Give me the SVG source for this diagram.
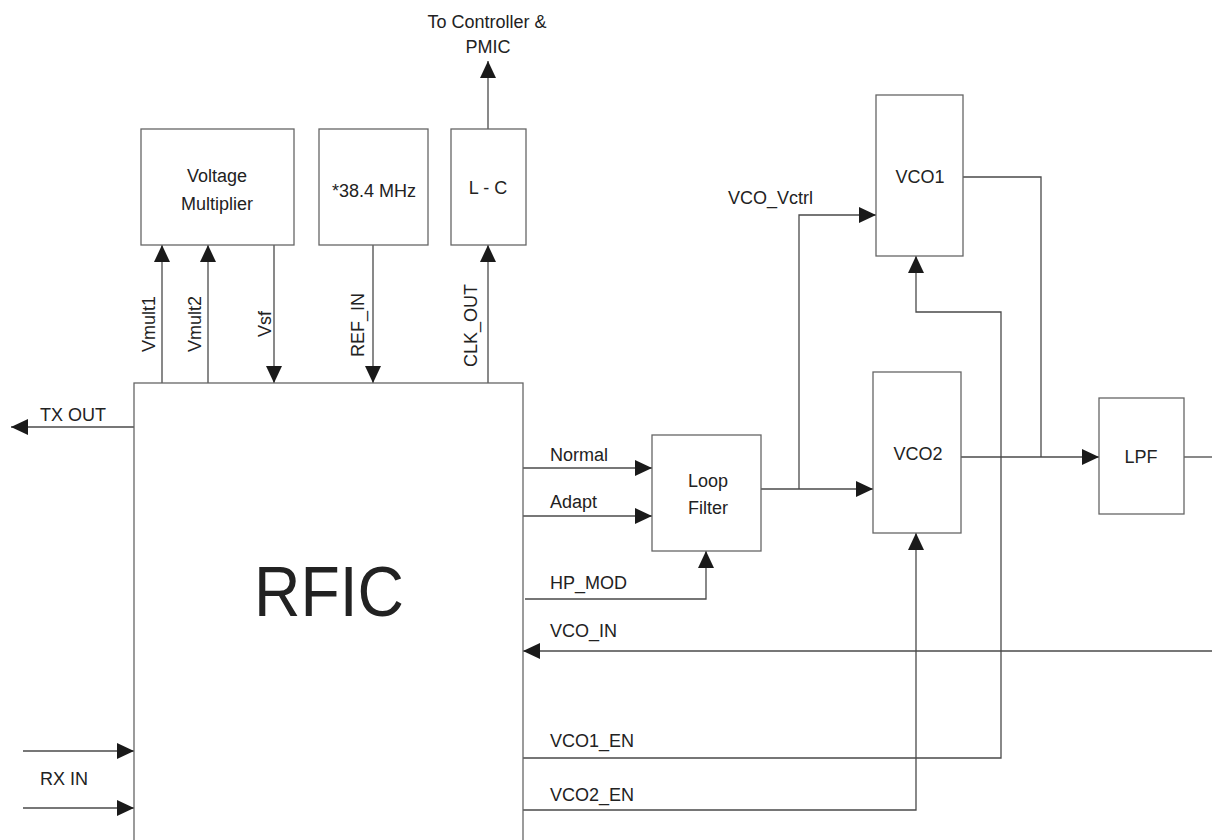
<svg xmlns="http://www.w3.org/2000/svg" width="1212" height="840" viewBox="0 0 1212 840">
<style>
.box{fill:#fff;stroke:#666;stroke-width:1.3}
.wire{fill:none;stroke:#4a4a4a;stroke-width:1.3}
.t{font-family:"Liberation Sans",Arial,sans-serif;font-size:18px;fill:#222}
.c{text-anchor:middle}
.big{font-size:71px}
</style>
<defs>
<marker id="ah" markerUnits="userSpaceOnUse" markerWidth="17" markerHeight="16" refX="17" refY="8" orient="auto" viewBox="0 0 17 16">
<path d="M0,0 L17,8 L0,16 z" fill="#1a1a1a"/>
</marker>
</defs>
<rect width="1212" height="840" fill="#fff"/>
<g id="connectors">
<path class="wire" d="M162,383 V245" marker-end="url(#ah)"/>
<path class="wire" d="M208,383 V245" marker-end="url(#ah)"/>
<path class="wire" d="M274,245 V383" marker-end="url(#ah)"/>
<path class="wire" d="M373,245 V383" marker-end="url(#ah)"/>
<path class="wire" d="M488,383 V245" marker-end="url(#ah)"/>
<path class="wire" d="M488,129 V61" marker-end="url(#ah)"/>
<path class="wire" d="M134,427 H11" marker-end="url(#ah)"/>
<path class="wire" d="M23,751 H134" marker-end="url(#ah)"/>
<path class="wire" d="M23,808 H134" marker-end="url(#ah)"/>
<path class="wire" d="M523,468 H652" marker-end="url(#ah)"/>
<path class="wire" d="M523,516 H652" marker-end="url(#ah)"/>
<path class="wire" d="M525,599 H706 V551" marker-end="url(#ah)"/>
<path class="wire" d="M1212,651 H523" marker-end="url(#ah)"/>
<path class="wire" d="M523,758 H1001 V312 H916 V256" marker-end="url(#ah)"/>
<path class="wire" d="M523,810 H916 V533" marker-end="url(#ah)"/>
<path class="wire" d="M761,489 H873" marker-end="url(#ah)"/>
<path class="wire" d="M799,489 V215 H876" marker-end="url(#ah)"/>
<path class="wire" d="M963,177 H1041 V457"/>
<path class="wire" d="M961,457 H1099" marker-end="url(#ah)"/>
<path class="wire" d="M1184,457 H1212"/>
</g>
<g id="rfic">
<rect class="box" x="134" y="383" width="389" height="470"/>
<text class="t big" x="254" y="616" textLength="150" lengthAdjust="spacingAndGlyphs">RFIC</text>
</g>
<g id="voltage-multiplier">
<rect class="box" x="141" y="129" width="153" height="116"/>
<text class="t c" x="217" y="182">Voltage</text>
<text class="t c" x="217" y="210">Multiplier</text>
</g>
<g id="ref-osc">
<rect class="box" x="319" y="129" width="109" height="116"/>
<text class="t c" x="374" y="197">*38.4 MHz</text>
</g>
<g id="lc">
<rect class="box" x="451" y="129" width="75" height="116"/>
<text class="t c" x="488" y="194">L - C</text>
</g>
<g id="loop-filter">
<rect class="box" x="652" y="435" width="109" height="116"/>
<text class="t c" x="708" y="487">Loop</text>
<text class="t c" x="708" y="514">Filter</text>
</g>
<g id="vco1">
<rect class="box" x="876" y="95" width="87" height="161"/>
<text class="t c" x="920" y="183">VCO1</text>
</g>
<g id="vco2">
<rect class="box" x="873" y="372" width="88" height="161"/>
<text class="t c" x="918" y="460">VCO2</text>
</g>
<g id="lpf">
<rect class="box" x="1099" y="398" width="85" height="116"/>
<text class="t c" x="1141" y="463">LPF</text>
</g>
<g id="labels">
<text class="t c" x="487" y="28">To Controller &amp;</text>
<text class="t c" x="488" y="53">PMIC</text>
<text class="t" transform="translate(155,352) rotate(-90)">Vmult1</text>
<text class="t" transform="translate(201,352) rotate(-90)">Vmult2</text>
<text class="t" transform="translate(271,337) rotate(-90)">Vsf</text>
<text class="t" transform="translate(364,357) rotate(-90)">REF_IN</text>
<text class="t" transform="translate(477,367) rotate(-90)">CLK_OUT</text>
<text class="t" x="40" y="421">TX OUT</text>
<text class="t" x="40" y="785">RX IN</text>
<text class="t" x="550" y="461">Normal</text>
<text class="t" x="550" y="508">Adapt</text>
<text class="t" x="550" y="589">HP_MOD</text>
<text class="t" x="550" y="637">VCO_IN</text>
<text class="t" x="550" y="747">VCO1_EN</text>
<text class="t" x="550" y="801">VCO2_EN</text>
<text class="t" x="728" y="204">VCO_Vctrl</text>
</g>
</svg>
